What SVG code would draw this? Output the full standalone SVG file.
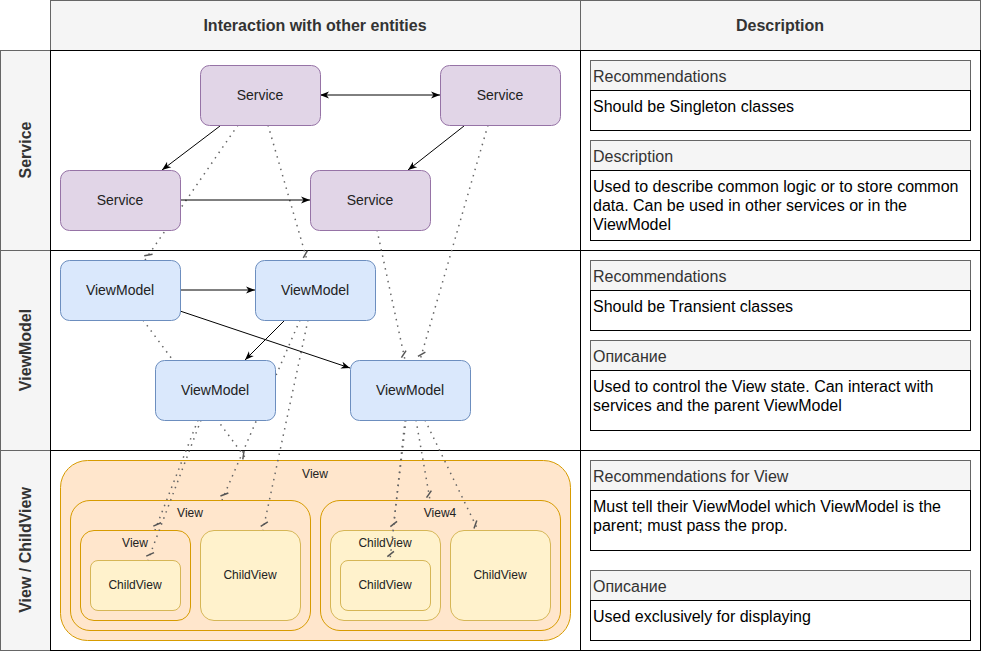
<svg xmlns="http://www.w3.org/2000/svg" width="981" height="651" viewBox="0 0 981 651">
<style>
  text { font-family: "Liberation Sans", Arial, Helvetica, sans-serif; }
  .hdr { fill: #f5f5f5; stroke: #666666; stroke-width: 1; }
  .cell { fill: #ffffff; stroke: #000000; stroke-width: 1; }
  .htxt { font-size: 16px; font-weight: bold; fill: #333333; text-anchor: middle; }
  .svc { fill: #e1d5e7; stroke: #9673a6; stroke-width: 1; }
  .vm { fill: #dae8fc; stroke: #6c8ebf; stroke-width: 1; }
  .view { fill: #ffe6cc; stroke: #d79b00; stroke-width: 1; }
  .child { fill: #fff2cc; stroke: #d6b656; stroke-width: 1; }
  .ntxt { font-size: 14px; fill: #222222; text-anchor: middle; }
  .stxt { font-size: 12px; fill: #222222; text-anchor: middle; }
  .dh { fill: #f5f5f5; stroke: #666666; stroke-width: 1; }
  .db { fill: #ffffff; stroke: #000000; stroke-width: 1; }
  .dht { font-size: 16px; fill: #333333; }
  .dbt { font-size: 16px; fill: #000000; }
  .solid { fill: none; stroke: #000000; stroke-width: 1; marker-end: url(#arr); }
  .dot { fill: none; stroke: #666666; stroke-width: 1.5; stroke-dasharray: 1.5 5; marker-end: url(#dash); }
</style>
<defs>
  <marker id="arr" viewBox="-10 -5 12 10" refX="0" refY="0" markerWidth="12" markerHeight="10" markerUnits="userSpaceOnUse" orient="auto-start-reverse">
    <path d="M0,0 L-9,-3.5 L-6.5,0 L-9,3.5 Z" fill="#000000"/>
  </marker>
  <marker id="dash" viewBox="-12 -6 14 12" refX="0" refY="0" markerWidth="14" markerHeight="12" markerUnits="userSpaceOnUse" orient="auto">
    <path d="M-3,3 L-9,-3" stroke="#555555" stroke-width="1.5" fill="none"/>
  </marker>
</defs>

<g id="table">
  <rect class="hdr" x="50.5" y="0.5" width="530" height="50"/>
  <rect class="hdr" x="580.5" y="0.5" width="400" height="50"/>
  <text class="htxt" x="315" y="31">Interaction with other entities</text>
  <text class="htxt" x="780" y="31">Description</text>

  <rect class="hdr" x="0.5" y="50.5" width="50" height="200"/>
  <rect class="hdr" x="0.5" y="250.5" width="50" height="200"/>
  <rect class="hdr" x="0.5" y="450.5" width="50" height="200"/>
  <text class="htxt" transform="translate(31,150) rotate(-90)">Service</text>
  <text class="htxt" transform="translate(31,350) rotate(-90)">ViewModel</text>
  <text class="htxt" transform="translate(31,550) rotate(-90)">View / ChildView</text>

  <rect class="cell" x="50.5" y="50.5" width="530" height="200"/>
  <rect class="cell" x="580.5" y="50.5" width="400" height="200"/>
  <rect class="cell" x="50.5" y="250.5" width="530" height="200"/>
  <rect class="cell" x="580.5" y="250.5" width="400" height="200"/>
  <rect class="cell" x="50.5" y="450.5" width="530" height="200"/>
  <rect class="cell" x="580.5" y="450.5" width="400" height="200"/>
</g>

<g id="desc-service">
  <rect class="dh" x="590.5" y="60.5" width="380" height="30"/>
  <text class="dht" x="593" y="82">Recommendations</text>
  <rect class="db" x="590.5" y="90.5" width="380" height="40"/>
  <text class="dbt" x="593" y="112">Should be Singleton classes</text>
  <rect class="dh" x="590.5" y="140.5" width="380" height="30"/>
  <text class="dht" x="593" y="162">Description</text>
  <rect class="db" x="590.5" y="170.5" width="380" height="70"/>
  <text class="dbt" x="593" y="192">Used to describe common logic or to store common</text>
  <text class="dbt" x="593" y="211">data. Can be used in other services or in the</text>
  <text class="dbt" x="593" y="230">ViewModel</text>
</g>

<g id="desc-viewmodel">
  <rect class="dh" x="590.5" y="260.5" width="380" height="30"/>
  <text class="dht" x="593" y="282">Recommendations</text>
  <rect class="db" x="590.5" y="290.5" width="380" height="40"/>
  <text class="dbt" x="593" y="312">Should be Transient classes</text>
  <rect class="dh" x="590.5" y="340.5" width="380" height="30"/>
  <text class="dht" x="593" y="362">Описание</text>
  <rect class="db" x="590.5" y="370.5" width="380" height="60"/>
  <text class="dbt" x="593" y="392">Used to control the View state. Can interact with</text>
  <text class="dbt" x="593" y="411">services and the parent ViewModel</text>
</g>

<g id="desc-view">
  <rect class="dh" x="590.5" y="460.5" width="380" height="30"/>
  <text class="dht" x="593" y="482">Recommendations for View</text>
  <rect class="db" x="590.5" y="490.5" width="380" height="60"/>
  <text class="dbt" x="593" y="512">Must tell their ViewModel which ViewModel is the</text>
  <text class="dbt" x="593" y="531">parent; must pass the prop.</text>
  <rect class="dh" x="590.5" y="570.5" width="380" height="30"/>
  <text class="dht" x="593" y="592">Описание</text>
  <rect class="db" x="590.5" y="600.5" width="380" height="40"/>
  <text class="dbt" x="593" y="622">Used exclusively for displaying</text>
</g>

<g id="view-outer">
  <rect class="view" x="60.5" y="460.5" width="510" height="180" rx="27"/>
  <text class="stxt" x="315" y="478">View</text>
</g>
<g id="view-left">
  <rect class="view" x="70.5" y="500.5" width="240" height="130" rx="19.5"/>
  <text class="stxt" x="190" y="517">View</text>
</g>
<g id="view-small">
  <rect class="view" x="80.5" y="530.5" width="110" height="90" rx="13.5"/>
  <text class="stxt" x="135" y="547">View</text>
</g>
<g id="childview-a">
  <rect class="child" x="90.5" y="560.5" width="90" height="50" rx="7.5"/>
  <text class="stxt" x="135" y="589">ChildView</text>
</g>
<g id="childview-b">
  <rect class="child" x="200.5" y="530.5" width="100" height="90" rx="13.5"/>
  <text class="stxt" x="250" y="579">ChildView</text>
</g>
<g id="view4">
  <rect class="view" x="320.5" y="500.5" width="240" height="130" rx="19.5"/>
  <text class="stxt" x="440" y="517">View4</text>
</g>
<g id="childview-c">
  <rect class="child" x="330.5" y="530.5" width="110" height="90" rx="13.5"/>
  <text class="stxt" x="385" y="547">ChildView</text>
</g>
<g id="childview-d">
  <rect class="child" x="340.5" y="560.5" width="90" height="50" rx="7.5"/>
  <text class="stxt" x="385" y="589">ChildView</text>
</g>
<g id="childview-e">
  <rect class="child" x="450.5" y="530.5" width="100" height="90" rx="13.5"/>
  <text class="stxt" x="500" y="579">ChildView</text>
</g>

<g id="connectors">
  <path class="dot" d="M238,125 L145,260"/>
  <path class="dot" d="M268,125 L307,260"/>
  <path class="dot" d="M377,230 L405,360"/>
  <path class="dot" d="M488,125 L420,360"/>
  <path class="dot" d="M143,320 L247,460"/>
  <path class="dot" d="M300,320 L222,500"/>
  <path class="dot" d="M308,320 L263,530"/>
  <path class="dot" d="M198,420 L155,530"/>
  <path class="dot" d="M201,420 L148,560"/>
  <path class="dot" d="M406,420 L393,530"/>
  <path class="dot" d="M405,420 L390,560"/>
  <path class="dot" d="M416,420 L430,500"/>
  <path class="dot" d="M425,420 L478,530"/>

  <path class="solid" d="M320,95 L440,95" style="marker-start:url(#arr)"/>
  <path class="solid" d="M220,126 L162,170"/>
  <path class="solid" d="M464,126 L408,170"/>
  <path class="solid" d="M180,200 L310,200"/>
  <path class="solid" d="M180,290 L255,290"/>
  <path class="solid" d="M285,320 L245,360"/>
  <path class="solid" d="M180,311 L350,368"/>
</g>

<g id="service-1">
  <rect class="svc" x="200.5" y="65.5" width="120" height="60" rx="9"/>
  <text class="ntxt" x="260" y="100">Service</text>
</g>
<g id="service-2">
  <rect class="svc" x="440.5" y="65.5" width="120" height="60" rx="9"/>
  <text class="ntxt" x="500" y="100">Service</text>
</g>
<g id="service-3">
  <rect class="svc" x="60.5" y="170.5" width="120" height="60" rx="9"/>
  <text class="ntxt" x="120" y="205">Service</text>
</g>
<g id="service-4">
  <rect class="svc" x="310.5" y="170.5" width="120" height="60" rx="9"/>
  <text class="ntxt" x="370" y="205">Service</text>
</g>

<g id="viewmodel-1">
  <rect class="vm" x="60.5" y="260.5" width="120" height="60" rx="9"/>
  <text class="ntxt" x="120" y="295">ViewModel</text>
</g>
<g id="viewmodel-2">
  <rect class="vm" x="255.5" y="260.5" width="120" height="60" rx="9"/>
  <text class="ntxt" x="315" y="295">ViewModel</text>
</g>
<g id="viewmodel-3">
  <rect class="vm" x="155.5" y="360.5" width="120" height="60" rx="9"/>
  <text class="ntxt" x="215" y="395">ViewModel</text>
</g>
<g id="viewmodel-4">
  <rect class="vm" x="350.5" y="360.5" width="120" height="60" rx="9"/>
  <text class="ntxt" x="410" y="395">ViewModel</text>
</g>
</svg>
